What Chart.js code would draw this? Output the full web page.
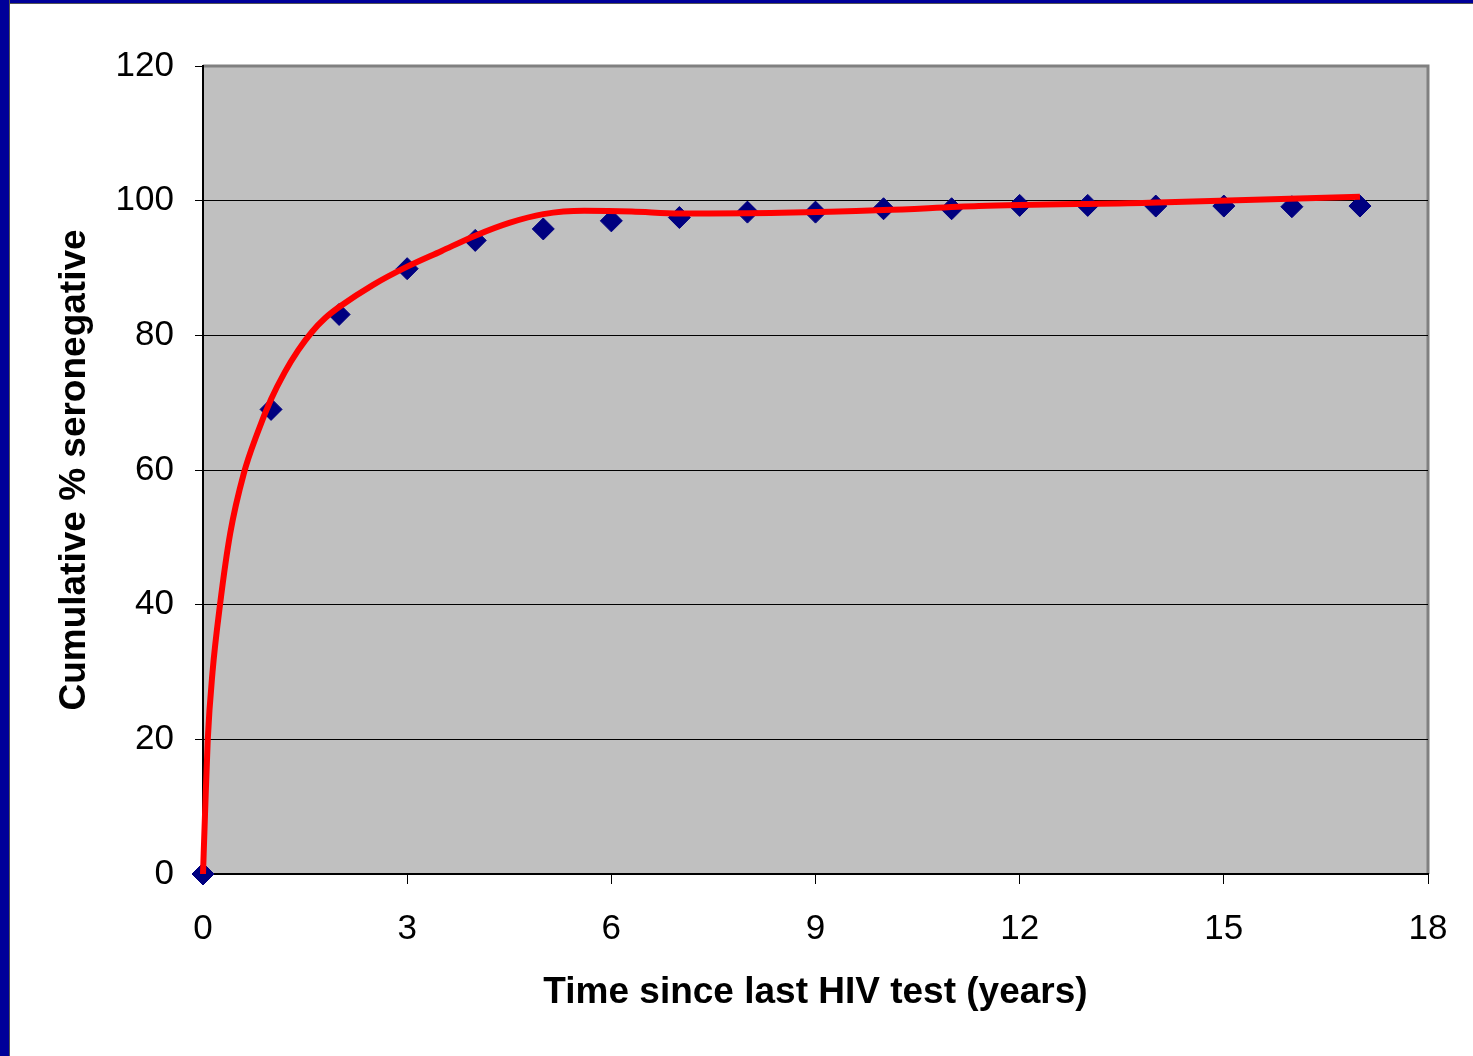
<!DOCTYPE html>
<html>
<head>
<meta charset="utf-8">
<script src="https://cdn.jsdelivr.net/npm/chart.js@4"></script>
<style>
  html, body { margin: 0; padding: 0; background: #fff; }
  #wrap { position: relative; width: 1473px; height: 1056px; overflow: hidden; }
  #chart { position: absolute; left: 0; top: 0; }
  .frameTop { position: absolute; left: 0; top: 0; width: 1473px; height: 3px; background: #000099; border-bottom: 1px solid #555; }
  .frameLeft { position: absolute; left: 0; top: 0; width: 9px; height: 1056px; background: #000099; border-right: 1px solid #555; }
</style>
</head>
<body>
<div id="wrap">
  <canvas id="chart" width="1473" height="1056"></canvas>
  <div class="frameTop"></div>
  <div class="frameLeft"></div>
</div>
<script>
// observed points (years since last test, cumulative %)
const years = [0, 1, 2, 3, 4, 5, 6, 7, 8, 9, 10, 11, 12, 13, 14, 15, 16, 17]
const seronegative = [0, 69, 83.1, 89.9, 94.1, 95.8, 97.0, 97.5, 98.3, 98.3, 98.8, 98.8, 99.3, 99.3, 99.2, 99.2, 99.1, 99.2]

// red trend line
const trendX = [0, 0.03, 0.07, 0.14, 0.25, 0.40, 0.60, 0.8, 1.0, 1.2, 1.4, 1.6, 1.8, 2, 2.5, 3, 3.5, 4, 4.5, 5, 5.6, 6.3, 7, 8.5, 10, 11.4, 13.9, 17]
const trendY = [0, 9, 20, 30, 40, 50.6, 59.5, 65.5, 70.5, 74.5, 77.8, 80.5, 82.6, 84.2, 87.5, 90.2, 92.5, 94.8, 96.7, 98.0, 98.5, 98.4, 98.1, 98.2, 98.6, 99.2, 99.7, 100.6]

const yTicks = [0, 20, 40, 60, 80, 100, 120]
const xTicks = [0, 3, 6, 9, 12, 15, 18]

const FONT = "'Liberation Sans', Arial, sans-serif"

const plotBackground = {
  id: "plotBackground",
  beforeDraw(chart) {
    const { ctx, chartArea: a } = chart
    ctx.save()
    ctx.fillStyle = "#c0c0c0"
    ctx.fillRect(a.left, a.top, a.right - a.left, a.bottom - a.top)
    ctx.strokeStyle = "#808080"
    ctx.lineWidth = 3
    ctx.beginPath()
    ctx.moveTo(a.left, a.top)
    ctx.lineTo(a.right, a.top)
    ctx.lineTo(a.right, a.bottom)
    ctx.stroke()
    ctx.restore()
  }
}

new Chart(document.getElementById("chart").getContext("2d"), {
  type: "scatter",
  data: {
    datasets: [
      {
        type: "line",
        label: "Trend",
        data: trendX.map((x, i) => ({ x: x, y: trendY[i] })),
        borderColor: "#ff0000",
        borderWidth: 6,
        pointRadius: 0,
        cubicInterpolationMode: "monotone",
        fill: false,
        clip: false,
        order: 1
      },
      {
        label: "Observed",
        data: years.map((x, i) => ({ x: x, y: seronegative[i] })),
        pointStyle: "rectRot",
        pointRadius: 11,
        backgroundColor: "#000080",
        borderColor: "#000080",
        borderWidth: 1,
        clip: false,
        order: 2
      }
    ]
  },
  options: {
    responsive: false,
    animation: false,
    layout: { padding: { left: 0, top: 66, right: 45, bottom: 0 } },
    plugins: {
      legend: { display: false },
      tooltip: { enabled: false }
    },
    scales: {
      x: {
        type: "linear",
        min: 0,
        max: 18,
        afterBuildTicks: (axis) => { axis.ticks = xTicks.map(v => ({ value: v })) },
        afterFit: (axis) => { axis.height = 182 },
        ticks: {
          color: "#000",
          padding: 24,
          font: { family: FONT, size: 35 }
        },
        grid: {
          drawOnChartArea: false,
          drawTicks: true,
          tickLength: 10,
          tickColor: "#000"
        },
        border: { color: "#000", width: 2 },
        title: {
          display: true,
          text: "Time since last HIV test (years)",
          color: "#000",
          padding: { top: 0, bottom: 41 },
          font: { family: FONT, size: 37, weight: "bold" }
        }
      },
      y: {
        min: 0,
        max: 120,
        afterBuildTicks: (axis) => { axis.ticks = yTicks.map(v => ({ value: v })) },
        afterFit: (axis) => { axis.width = 203 },
        ticks: {
          color: "#000",
          padding: 21,
          font: { family: FONT, size: 35 }
        },
        grid: {
          color: (c) => (c.tick && c.tick.value === 120) ? "rgba(0,0,0,0)" : "#000",
          lineWidth: 1,
          tickLength: 8,
          tickColor: "#000"
        },
        border: { color: "#000", width: 2 },
        title: {
          display: true,
          text: "Cumulative % seronegative",
          color: "#000",
          padding: { top: 53, bottom: 0 },
          font: { family: FONT, size: 37, weight: "bold" }
        }
      }
    }
  },
  plugins: [plotBackground]
})
</script>
</body>
</html>
